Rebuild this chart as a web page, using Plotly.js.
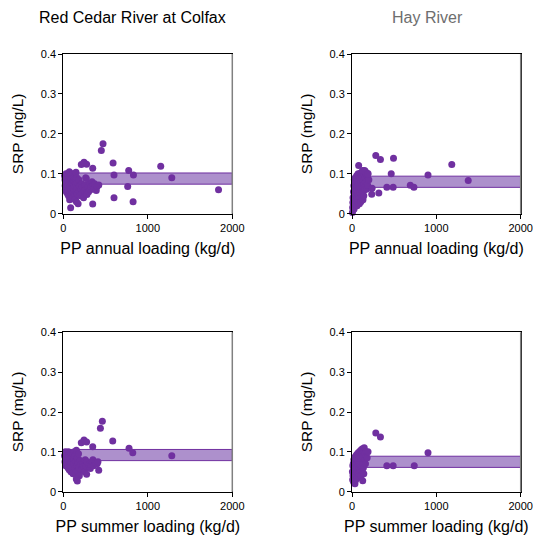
<!DOCTYPE html>
<html>
<head>
<meta charset="utf-8">
<script src="https://cdn.plot.ly/plotly-3.0.1.min.js"></script>
<style>html,body{margin:0;padding:0;background:#fff;}#chart{width:533px;height:537px;}</style>
</head>
<body>
<div id="chart"></div>
<script>
// Panel titles and axis labels
const panelTitles = ["Red Cedar River at Colfax", "Hay River"];
const xLabels = ["PP annual loading (kg/d)", "PP summer loading (kg/d)"];
const yLabel = "SRP (mg/L)";

// Red Cedar River at Colfax – annual loading
const rcAnnualX = [15,20,22,25,30,32,35,40,42,45,50,50,55,58,60,62,65,68,70,72,75,78,80,82,85,88,90,92,95,98,100,100,105,108,110,112,115,118,120,122,125,128,130,132,135,138,140,142,145,148,150,152,155,158,160,165,170,175,180,185,190,195,200,210,215,220,230,240,250,260,265,270,280,290,300,310,320,330,340,350,360,370,390,400,420,
  470,450,589,1153,774,348,600,830,1284,762,1837,600,826,348,87,213,245,276,272];
const rcAnnualY = [0.095,0.085,0.07,0.06,0.08,0.1,0.055,0.075,0.09,0.065,0.1,0.05,0.082,0.07,0.095,0.045,0.06,0.088,0.078,0.105,0.035,0.067,0.092,0.055,0.072,0.1,0.062,0.085,0.048,0.077,0.097,0.068,0.058,0.088,0.04,0.075,0.1,0.065,0.082,0.052,0.092,0.07,0.06,0.098,0.045,0.08,0.035,0.068,0.088,0.056,0.104,0.074,0.03,0.062,0.09,0.05,0.078,0.025,0.065,0.085,0.055,0.07,0.045,0.06,0.075,0.05,0.068,0.04,0.058,0.072,0.09,0.062,0.048,0.066,0.055,0.075,0.06,0.068,0.08,0.07,0.062,0.075,0.058,0.068,0.072,
  0.175,0.158,0.127,0.119,0.108,0.114,0.097,0.097,0.090,0.068,0.060,0.040,0.030,0.024,0.015,0.123,0.129,0.124,0.088];

// Hay River – annual loading
const hayAnnualX = [5,8,10,12,15,18,20,22,25,25,28,30,32,35,38,40,42,45,48,50,52,55,58,60,62,65,68,70,72,75,78,80,82,85,88,90,92,95,98,100,102,105,108,110,112,115,118,120,122,125,128,130,132,135,138,140,145,150,152,155,160,165,170,175,180,185,190,200,
  282,337,492,1183,79,465,901,1378,691,734,413,488,238,318,234,159,127,187];
const hayAnnualY = [0.003,0.015,0.028,0.04,0.02,0.055,0.035,0.07,0.045,0.012,0.085,0.06,0.025,0.05,0.075,0.038,0.09,0.065,0.03,0.08,0.045,0.095,0.058,0.02,0.07,0.04,0.088,0.052,0.1,0.033,0.078,0.062,0.045,0.092,0.025,0.07,0.055,0.085,0.04,0.102,0.065,0.03,0.078,0.05,0.095,0.06,0.04,0.088,0.072,0.105,0.055,0.035,0.082,0.065,0.1,0.045,0.075,0.108,0.06,0.09,0.07,0.1,0.08,0.062,0.095,0.072,0.101,0.085,
  0.146,0.136,0.139,0.123,0.121,0.100,0.097,0.083,0.071,0.066,0.066,0.066,0.064,0.052,0.049,0.106,0.108,0.099];

// Red Cedar River at Colfax – summer loading
const rcSummerX = [15,20,25,30,35,40,45,50,55,60,65,70,75,80,85,90,95,100,105,110,115,120,125,130,135,140,145,150,155,160,165,170,175,180,185,190,200,210,220,230,240,250,260,270,280,300,310,320,330,340,350,360,380,400,410,
  462,439,585,778,822,1284,348,213,245,276,419,276,154,166];
const rcSummerY = [0.09,0.075,0.1,0.065,0.085,0.095,0.07,0.08,0.06,0.1,0.088,0.055,0.078,0.098,0.068,0.05,0.085,0.075,0.062,0.095,0.045,0.082,0.07,0.1,0.058,0.09,0.048,0.075,0.104,0.065,0.085,0.052,0.072,0.095,0.06,0.04,0.078,0.068,0.055,0.07,0.062,0.05,0.08,0.065,0.075,0.06,0.07,0.058,0.068,0.075,0.08,0.065,0.072,0.07,0.075,
  0.177,0.159,0.1275,0.109,0.0975,0.090,0.113,0.123,0.130,0.125,0.054,0.044,0.032,0.027];

// Hay River – summer loading
const haySummerX = [5,8,10,12,15,18,20,22,25,28,30,32,35,38,40,42,45,48,50,52,55,58,60,62,65,68,70,72,75,78,80,82,85,88,90,92,95,98,100,105,108,110,112,115,118,120,125,128,130,135,138,140,145,150,155,160,170,180,190,
  282,337,901,413,488,738,127];
const haySummerY = [0.05,0.03,0.065,0.04,0.07,0.025,0.055,0.08,0.035,0.06,0.045,0.075,0.02,0.088,0.05,0.065,0.03,0.08,0.058,0.092,0.04,0.07,0.085,0.05,0.095,0.062,0.035,0.078,0.098,0.055,0.07,0.045,0.088,0.1,0.06,0.075,0.05,0.102,0.068,0.085,0.04,0.105,0.062,0.078,0.095,0.052,0.108,0.07,0.088,0.06,0.1,0.045,0.11,0.08,0.095,0.07,0.1,0.085,0.1,
  0.1475,0.137,0.0975,0.065,0.065,0.065,0.0275];

// Shaded bands (lower, upper) per panel
const bandLow = [0.074, 0.066, 0.078, 0.061];
const bandHigh = [0.102, 0.094, 0.106, 0.089];

const purple = "#7030a0";
const bandFill = "#ad90cc";

const W = 533, H = 537;
const xDom = [[63.3/W, 232.3/W], [352/W, 520.7/W]];
const yDom = [[1-213.7/H, 1-54/H], [1-491.7/H, 1-332.3/H]];

const series = [[rcAnnualX, rcAnnualY],[hayAnnualX, hayAnnualY],[rcSummerX, rcSummerY],[haySummerX, haySummerY]];
const traces = [];
const layout = {
  width: W, height: H,
  margin: {l:0, r:0, t:0, b:0},
  paper_bgcolor: "#fff", plot_bgcolor: "#fff",
  showlegend: false,
  font: {family: "Liberation Sans, Arial, sans-serif", color: "#000"},
  shapes: [], annotations: []
};

series.forEach((s, i) => {
  const n = i + 1;
  const sfx = n === 1 ? "" : String(n);
  const col = i % 2, row = Math.floor(i / 2);
  traces.push({
    type: "scatter", mode: "markers", x: s[0], y: s[1],
    xaxis: "x" + sfx, yaxis: "y" + sfx,
    marker: {color: purple, size: 7},
    cliponaxis: false, hoverinfo: "x+y"
  });
  const axCommon = {
    showgrid: false, zeroline: false, showline: true, linecolor: "#000", linewidth: 1,
    mirror: true, ticks: "outside", ticklen: 4, tickcolor: "#000",
    tickfont: {size: 11, color: "#000"}, fixedrange: true
  };
  layout["xaxis" + sfx] = Object.assign({}, axCommon, {
    domain: xDom[col], anchor: "y" + sfx, range: [0, 2000], tickvals: [0, 1000, 2000],
    title: {text: xLabels[row], font: {size: 16}, standoff: 9}
  });
  layout["yaxis" + sfx] = Object.assign({}, axCommon, {
    domain: yDom[row], anchor: "x" + sfx, range: [0, 0.4], tickvals: [0, 0.1, 0.2, 0.3, 0.4],
    ticktext: ["0", "0.1", "0.2", "0.3", "0.4"],
    title: {text: yLabel, font: {size: 15.5}, standoff: 13}
  });
  layout.shapes.push({
    type: "rect", xref: "x" + sfx, yref: "y" + sfx, x0: 0, x1: 2000,
    y0: bandLow[i], y1: bandHigh[i], fillcolor: bandFill, line: {color: purple, width: 1}, layer: "below"
  });
  layout.shapes.push({
    type: "line", xref: "x" + sfx + " domain", yref: "y" + sfx + " domain",
    x0: 1, x1: 1, y0: 0, y1: 1, line: {color: "#808080", width: 1.5}, layer: "above"
  });
});

layout.annotations.push({
  text: panelTitles[0], xref: "paper", yref: "paper", x: 37/W, y: 1 - 17/H,
  showarrow: false, font: {size: 16, color: "#000"}, xanchor: "left", yanchor: "middle"
});
layout.annotations.push({
  text: panelTitles[1], xref: "paper", yref: "paper", x: 427/W, y: 1 - 17/H,
  showarrow: false, font: {size: 16, color: "#6e6e6e"}, xanchor: "center", yanchor: "middle"
});

Plotly.newPlot("chart", traces, layout, {displayModeBar: false, staticPlot: true});
</script>
</body>
</html>
